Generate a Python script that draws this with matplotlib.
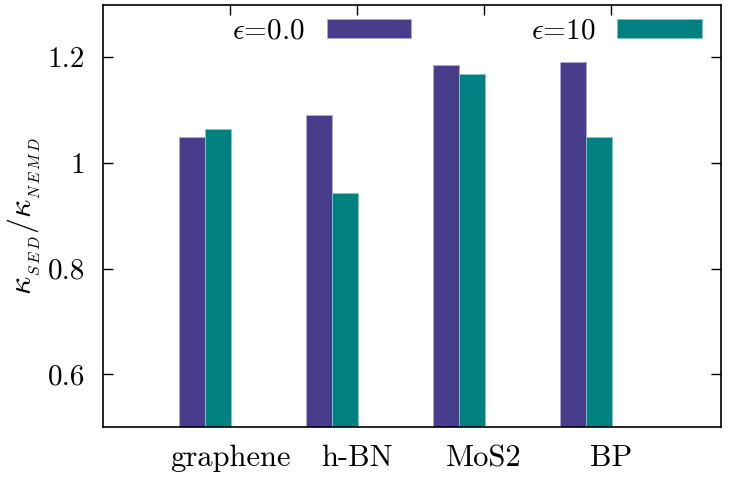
import matplotlib
matplotlib.use("Agg")
import matplotlib.pyplot as plt
import numpy as np

categories = ["graphene", "h-BN", "MoS2", "BP"]
eps0 = [1.049, 1.091, 1.186, 1.191]
eps10 = [1.064, 0.943, 1.169, 1.049]
series_labels = [r"$\epsilon$=0.0", r"$\epsilon$=10"]
yticks = [0.6, 0.8, 1.0, 1.2]
yticklabels = ["0.6", "0.8", "1", "1.2"]

plt.rcParams["font.family"] = "serif"
plt.rcParams["font.serif"] = ["cmr10"]
plt.rcParams["mathtext.fontset"] = "cm"
plt.rcParams["axes.formatter.use_mathtext"] = True

fig = plt.figure(figsize=(7.33, 4.84), dpi=100)
ax = fig.add_axes([103/733, 1-427/484, (721-103)/733, (427-4.5)/484])

x = np.arange(len(categories))
w = 0.205
ax.bar(x - 0.3, eps0, width=w, color="#483D8B", edgecolor="#b0a8d8", linewidth=0.6,
       label=series_labels[0], zorder=2)
ax.bar(x - 0.3 + w, eps10, width=w, color="#008080", edgecolor="#80c8c8", linewidth=0.6,
       label=series_labels[1], zorder=2)

ax.set_xlim(-1.0, 3.866)
ax.set_ylim(0.5, 1.3)
ax.set_xticks(x)
ax.set_xticklabels(categories, fontsize=22)
ax.set_yticks(yticks)
ax.set_yticklabels(yticklabels, fontsize=21)
ax.tick_params(axis="y", direction="in", length=7, width=1, right=True, pad=13)
ax.tick_params(axis="x", direction="in", length=7, width=1, top=True, bottom=False, pad=13)
for s in ax.spines.values():
    s.set_linewidth(1.2)

ax.set_ylabel(r"$\kappa_{_{S\,E\,D}}/\kappa_{_{N\,E\,M\,D}}$", fontsize=23, labelpad=4)

leg = ax.legend(ncol=2, markerfirst=False, frameon=False, loc="upper left",
                bbox_to_anchor=(0.19, 0.995), fontsize=21, handlelength=2.9,
                handleheight=0.6, handletextpad=0.75, columnspacing=4.1,
                borderaxespad=0.0)

fig.savefig("out.png", dpi=100)
